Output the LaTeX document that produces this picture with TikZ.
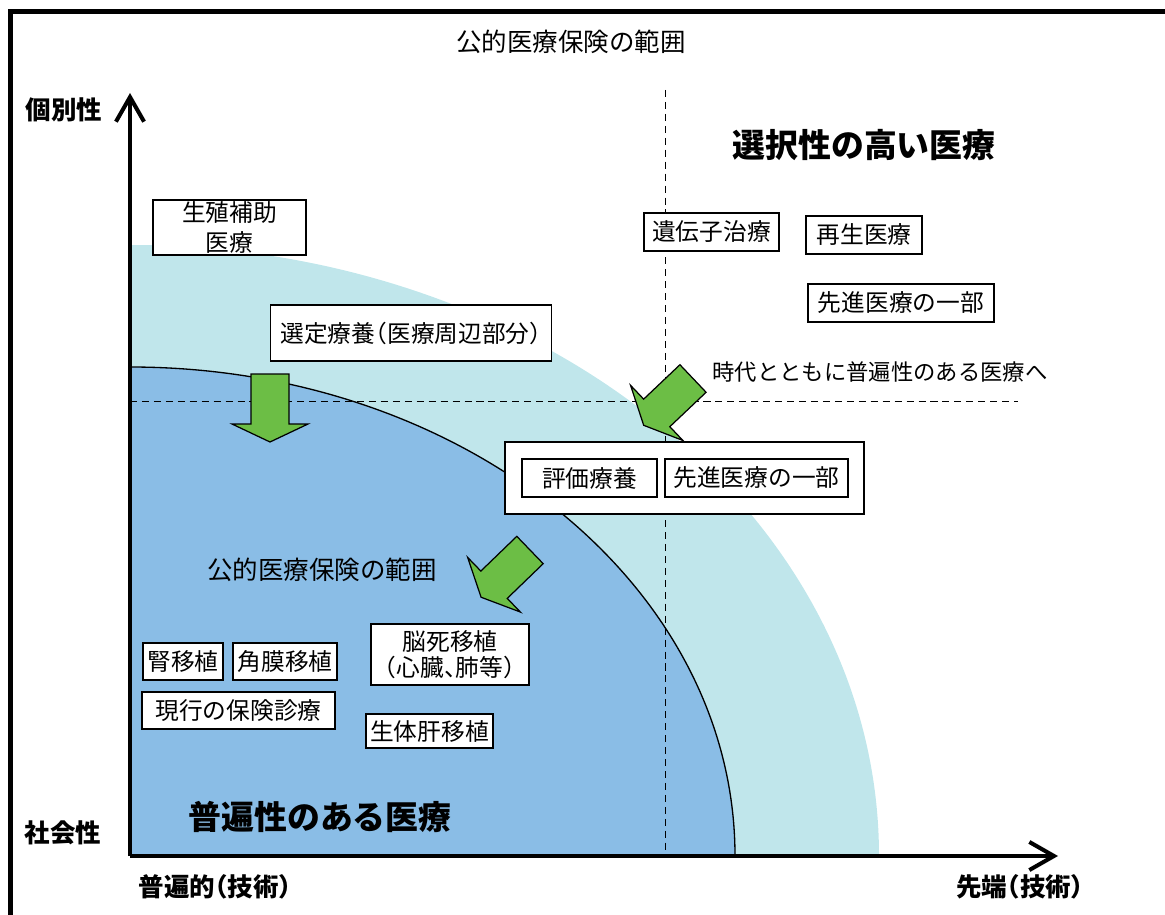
\documentclass[tikz,border=0pt]{standalone}
\usepackage{fontspec}
\setmainfont{Noto Sans CJK JP}[RawFeature=+halt]
\usepackage{xcolor}
\usetikzlibrary{arrows.meta}
\definecolor{lightcyan}{HTML}{C0E6EB}
\definecolor{midblue}{HTML}{8ABDE6}
\definecolor{leafgreen}{HTML}{6CBE45}
\tikzset{
  >={Straight Barb[length=14pt,width=16pt]},
  shiftarrow/.pic={
    \draw[push] (-19,0) -- (-19,50) -- (-38,50) -- (0,68) -- (38,50) -- (19,50) -- (19,0) -- cycle;
  },
}
\tikzstyle{axes}=[line width=2.3pt,->]
\tikzstyle{frame}=[line width=2.6pt]
\tikzstyle{guide}=[line width=0.5pt,dash pattern=on 4pt off 2.8pt]
\tikzstyle{push}=[fill=leafgreen,draw=black,line width=0.7pt,line join=miter]
\tikzstyle{itembox}=[draw,fill=white,line width=0.8pt,inner sep=0pt,align=center,font=\fontsize{13.5}{16}\selectfont]
\tikzstyle{note}=[font=\fontsize{14.5}{17}\selectfont]
\tikzstyle{axislabel}=[font=\fontsize{14.5}{17}\selectfont\bfseries]
\tikzstyle{zone}=[font=\fontsize{18.7}{22}\selectfont\bfseries]

\begin{document}
\begin{tikzpicture}[x=0.02cm,y=-0.02cm]
  \useasboundingbox (0,0) rectangle (1165,915);
  \draw[frame] (1170,11.5) -- (10.5,11.5) -- (10.5,920);

  % regions
  \coordinate (origin) at (130,856);
  \fill[lightcyan] (origin) -- (879,856) arc[start angle=0,end angle=-90,x radius=749,y radius=611] -- cycle;
  \fill[midblue] (origin) -- (735,856) arc[start angle=0,end angle=-90,x radius=605,y radius=489] -- cycle;
  \draw[line width=0.75pt] (735,856) arc[start angle=0,end angle=-90,x radius=605,y radius=489];

  \draw[guide] (665,90) -- (665,856);
  \draw[guide] (130,401) -- (1018,401);

  \draw[axes] (origin) -- (130,93);
  \draw[axes] (origin) -- (1058,856);

  \node[note] (title) at (571,42) {公的医療保険の範囲};
  \node[axislabel] (kobetsu) at (64,110) {個別性};
  \node[axislabel] (shakai) at (63,833) {社会性};
  \node[axislabel] (fuhenteki) at (215,887) {普遍的（技術）};
  \node[axislabel] (sentan) at (1020,887) {先端（技術）};
  \node[zone] (sentaku) at (864,145) {選択性の高い医療};
  \node[zone] (fuhen) at (320,817) {普遍性のある医療};
  \node[note,font=\fontsize{12.7}{15}\selectfont] (jidai) at (880,372) {時代とともに普遍性のある医療へ};
  \node[note] (hani) at (322,570) {公的医療保険の範囲};

  % arrows
  \pic at (270,374) {shiftarrow};
  \pic[rotate=-46.5] at (693,378.5) {shiftarrow};
  \pic[rotate=-46] at (530,550) {shiftarrow};

  % boxes
  \node[itembox,minimum width=3.06cm,minimum height=1.10cm,font=\fontsize{13.5}{17}\selectfont] (gensei) at (229.5,227.5) {生殖補助\\医療};
  \node[itembox,minimum width=5.62cm,minimum height=1.12cm] (sentei) at (411,333) {選定療養（医療周辺部分）};
  \node[itembox,minimum width=2.70cm,minimum height=0.76cm] (idenshi) at (711.5,232) {遺伝子治療};
  \node[itembox,minimum width=2.32cm,minimum height=0.76cm] (saisei) at (864,235) {再生医療};
  \node[itembox,minimum width=3.72cm,minimum height=0.76cm] (senshinA) at (901,303) {先進医療の一部};
  \node[itembox,minimum width=7.18cm,minimum height=1.44cm] (hyokaframe) at (684.5,478) {};
  \node[itembox,minimum width=2.70cm,minimum height=0.76cm] (hyoka) at (589.5,478) {評価療養};
  \node[itembox,minimum width=3.66cm,minimum height=0.76cm] (senshinB) at (756.5,478) {先進医療の一部};
  \node[itembox,minimum width=1.60cm,minimum height=0.74cm] (jin) at (183,661.5) {腎移植};
  \node[itembox,minimum width=2.08cm,minimum height=0.74cm] (kakumaku) at (285,661.5) {角膜移植};
  \node[itembox,minimum width=3.16cm,minimum height=1.22cm,font=\fontsize{13.5}{15}\selectfont] (noushi) at (450,654.5) {脳死移植\\（心臓、肺等）};
  \node[itembox,minimum width=3.86cm,minimum height=0.74cm] (genko) at (238.5,710.5) {現行の保険診療};
  \node[itembox,minimum width=2.54cm,minimum height=0.68cm] (seitai) at (429.5,731) {生体肝移植};
\end{tikzpicture}
\end{document}
